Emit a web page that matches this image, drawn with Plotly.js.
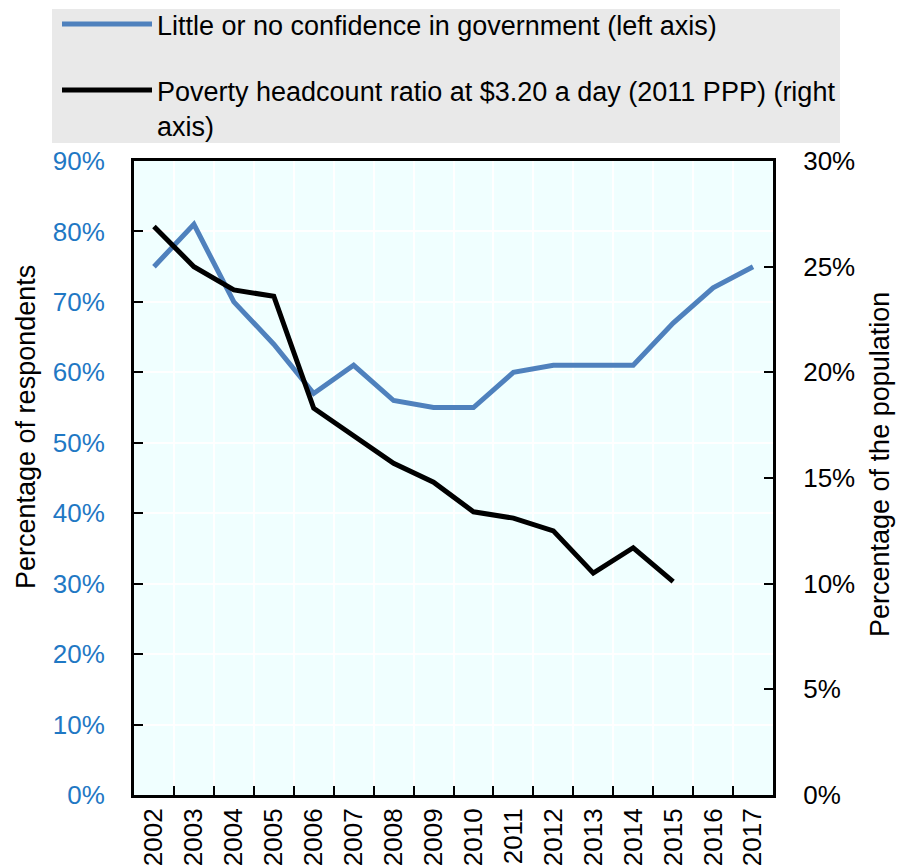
<!DOCTYPE html>
<html>
<head>
<meta charset="utf-8">
<script src="https://cdn.plot.ly/plotly-3.0.1.min.js"></script>
<style>html,body{margin:0;padding:0;background:#fff;}</style>
</head>
<body>
<div id="chart" style="width:899px;height:865px;"></div>
<script>
const years = ["2002","2003","2004","2005","2006","2007","2008","2009","2010","2011","2012","2013","2014","2015","2016","2017"];
const confidence = [75, 81, 70, 64, 57, 61, 56, 55, 55, 60, 61, 61, 61, 67, 72, 75];
const povertyYears = ["2002","2003","2004","2005","2006","2007","2008","2009","2010","2011","2012","2013","2014","2015"];
const poverty = [26.9, 25.0, 23.9, 23.6, 18.3, 17.0, 15.7, 14.8, 13.4, 13.1, 12.5, 10.5, 11.7, 10.1];
const leftTicks = [0, 10, 20, 30, 40, 50, 60, 70, 80, 90];
const rightTicks = [0, 5, 10, 15, 20, 25, 30];

const nameConf = "Little or no confidence in government (left axis)";
const namePov = "Poverty headcount ratio at $3.20 a day (2011 PPP) (right<br>axis)";

const W = 899, H = 865;
const L = 134, R = 126, T = 161, B = 70;
const pw = W - L - R, ph = H - T - B;
const px = v => (v - L) / pw;
const py = v => (H - B - v) / ph;

const baseFont = "Liberation Sans, Arial, sans-serif";

const traces = [
  {
    x: years, y: confidence, type: "scatter", mode: "lines",
    name: nameConf, yaxis: "y", legend: "legend",
    line: {color: "#4f81bd", width: 5}
  },
  {
    x: povertyYears, y: poverty, type: "scatter", mode: "lines",
    name: namePov, yaxis: "y2", legend: "legend2",
    line: {color: "#000000", width: 5}
  }
];

const legendBase = {
  xanchor: "left", yanchor: "top",
  bgcolor: "rgba(0,0,0,0)", borderwidth: 0,
  font: {family: baseFont, size: 27, color: "#000"},
  itemwidth: 90, itemclick: false, itemdoubleclick: false,
  valign: "top"
};

const layout = {
  width: W, height: H,
  margin: {l: L, r: R, t: T, b: B, pad: 0, autoexpand: false},
  paper_bgcolor: "#ffffff",
  plot_bgcolor: "#f0ffff",
  font: {family: baseFont, size: 26, color: "#000"},
  showlegend: true,
  xaxis: {
    type: "category",
    range: [-0.5, 15.5],
    tickson: "boundaries",
    ticks: "inside", ticklen: 9, tickwidth: 2, tickcolor: "#000",
    tickangle: -90,
    tickfont: {size: 26, color: "#000"},
    showline: true, linecolor: "#000", linewidth: 3, mirror: true,
    showgrid: true, gridcolor: "#ffffff", gridwidth: 2,
    zeroline: false, fixedrange: true
  },
  yaxis: {
    range: [0, 90],
    tickvals: leftTicks, ticktext: leftTicks.map(v => v + "%"),
    ticks: "inside", ticklen: 9, tickwidth: 2, tickcolor: "#000",
    tickfont: {size: 26, color: "#1f78c4"},
    ticklabelstandoff: 21,
    showline: true, linecolor: "#000", linewidth: 3,
    showgrid: true, gridcolor: "#ffffff", gridwidth: 2,
    zeroline: false, fixedrange: true
  },
  yaxis2: {
    overlaying: "y", side: "right",
    range: [0, 30],
    tickvals: rightTicks, ticktext: rightTicks.map(v => v + "%"),
    ticks: "inside", ticklen: 9, tickwidth: 2, tickcolor: "#000",
    tickfont: {size: 26, color: "#000"},
    ticklabelstandoff: 22,
    showline: true, linecolor: "#000", linewidth: 3,
    showgrid: false, zeroline: false, fixedrange: true
  },
  legend: Object.assign({}, legendBase, {x: px(57), y: py(0)}),
  legend2: Object.assign({}, legendBase, {x: px(57), y: py(66)}),
  shapes: [
    {type: "rect", xref: "paper", yref: "paper", layer: "below",
     x0: px(52), x1: px(840), y0: py(143), y1: py(9),
     fillcolor: "#e9e9e9", line: {width: 0}}
  ],
  annotations: [
    {text: "Percentage of respondents", xref: "paper", yref: "paper",
     x: px(26), y: py(427), xanchor: "center", yanchor: "middle",
     textangle: -90, showarrow: false, font: {size: 27, color: "#000"}},
    {text: "Percentage of the population", xref: "paper", yref: "paper",
     x: px(880), y: py(465), xanchor: "center", yanchor: "middle",
     textangle: -90, showarrow: false, font: {size: 27, color: "#000"}}
  ]
};

Plotly.newPlot("chart", traces, layout, {displayModeBar: false, staticPlot: true});
</script>
</body>
</html>
